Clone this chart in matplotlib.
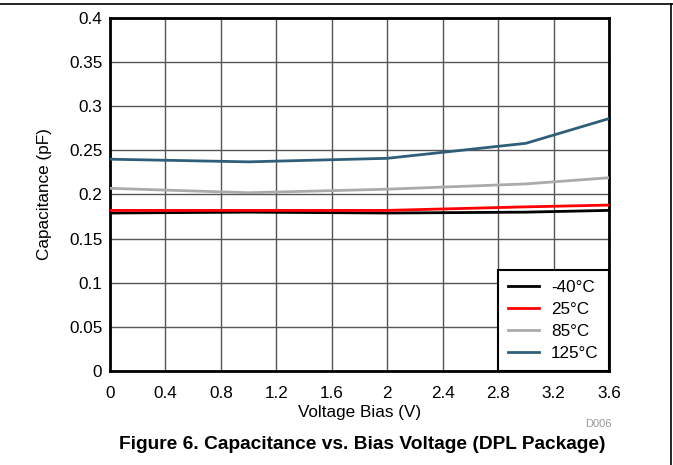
import matplotlib
matplotlib.use("Agg")
import matplotlib.pyplot as plt
from matplotlib.lines import Line2D

plt.rcParams['font.family'] = ['Liberation Sans', 'DejaVu Sans']

voltage = [0, 1, 2, 3, 3.6]
cap_m40 = [0.179, 0.180, 0.179, 0.180, 0.182]
cap_25 = [0.182, 0.182, 0.182, 0.186, 0.188]
cap_85 = [0.207, 0.202, 0.206, 0.212, 0.219]
cap_125 = [0.240, 0.237, 0.241, 0.258, 0.286]
labels = ['-40°C', '25°C', '85°C', '125°C']
colors = ['#000000', '#ff0000', '#aaaaaa', '#2f5f78']

xticks = [0, 0.4, 0.8, 1.2, 1.6, 2, 2.4, 2.8, 3.2, 3.6]
xticklabels = ['0', '0.4', '0.8', '1.2', '1.6', '2', '2.4', '2.8', '3.2', '3.6']
yticks = [0, 0.05, 0.1, 0.15, 0.2, 0.25, 0.3, 0.35, 0.4]
yticklabels = ['0', '0.05', '0.1', '0.15', '0.2', '0.25', '0.3', '0.35', '0.4']

FS = 12.3

fig = plt.figure(figsize=(6.73, 4.65), dpi=100)
ax = fig.add_axes([110/673, (465-371)/465, (609-110)/673, (371-18)/465])

for ys, c, lab in zip([cap_m40, cap_25, cap_85, cap_125], colors, labels):
    ax.plot(voltage, ys, color=c, lw=2, label=lab, zorder=3)

ax.set_xlim(0, 3.6)
ax.set_ylim(0, 0.4)
ax.set_xticks(xticks)
ax.set_xticklabels(xticklabels)
ax.set_yticks(yticks)
ax.set_yticklabels(yticklabels)
ax.tick_params(axis='x', length=0, labelsize=FS, pad=10.5)
ax.tick_params(axis='y', length=0, labelsize=FS, pad=5.5)
ax.grid(True, color='#555555', lw=1)
for s in ax.spines.values():
    s.set_linewidth(2)
ax.set_xlabel('Voltage Bias (V)', fontsize=FS, labelpad=3.5)
ax.set_ylabel('Capacitance (pF)', fontsize=FS, labelpad=12)

leg = ax.legend(loc='lower right', fontsize=FS, frameon=True, fancybox=False,
                borderaxespad=0, handlelength=1.8, handletextpad=0.7,
                labelspacing=0.4, borderpad=0.6)
leg.get_frame().set_edgecolor('black')
leg.get_frame().set_linewidth(1.5)
leg.get_frame().set_alpha(1)

fig.text(612/673, 1-424/465, 'D006', fontsize=8, color='#999999', ha='right', va='center')
fig.text(362/673, 1-444/465, 'Figure 6. Capacitance vs. Bias Voltage (DPL Package)',
         fontsize=13.8, fontweight='bold', ha='center', va='center')

fig.add_artist(Line2D([0, 1], [1-4/465, 1-4/465], color='black', lw=1.2, transform=fig.transFigure))
fig.add_artist(Line2D([671/673, 671/673], [0, 1-4/465], color='black', lw=1.2, transform=fig.transFigure))

fig.savefig('out.png', dpi=100)
